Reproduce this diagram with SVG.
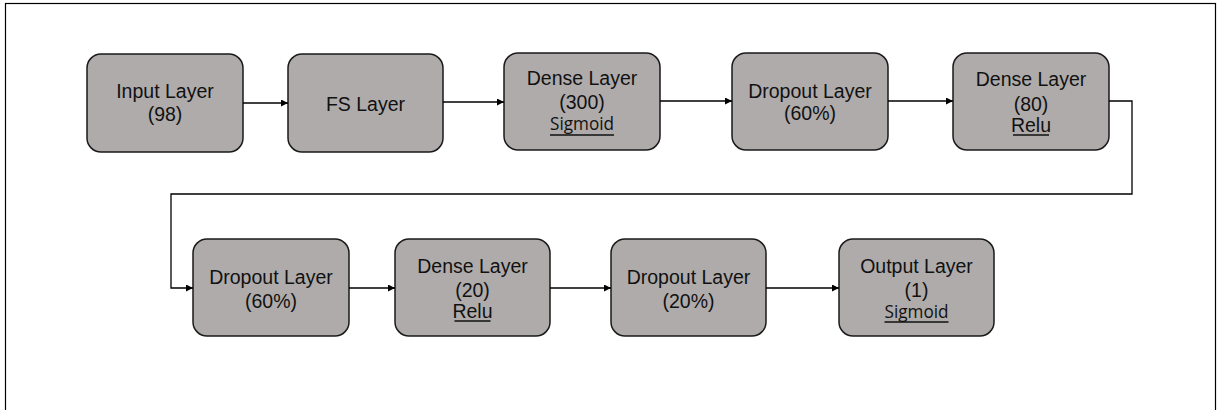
<svg xmlns="http://www.w3.org/2000/svg" width="1217" height="410" viewBox="0 0 1217 410">
  <defs>
    <marker id="arrow" viewBox="0 0 10 10" refX="10" refY="5" markerWidth="8" markerHeight="7" markerUnits="userSpaceOnUse" orient="auto">
      <path d="M0,0 L10,5 L0,10 Z" fill="#000"/>
    </marker>
  </defs>
  <style>
    .frame { fill: none; stroke: #000; stroke-width: 1.2; }
    .layer { fill: #AFABAB; stroke: #1a1a1a; stroke-width: 1.5; }
    .lbl { font-family: "Liberation Sans", Arial, sans-serif; font-size: 19.5px; fill: #111; text-anchor: middle; }
    .act { font-family: "Open Sans", "Noto Sans", sans-serif; font-size: 18px; fill: #111; text-anchor: middle; }
    .ul { stroke: #111; stroke-width: 1.3; }
    .edge { fill: none; stroke: #000; stroke-width: 1.3; marker-end: url(#arrow); }
  </style>

  <!-- outer frame -->
  <rect class="frame" x="5.5" y="3.5" width="1210" height="430"/>

  <!-- top row -->
  <g id="input-layer">
    <rect class="layer" x="87" y="54" width="156" height="98" rx="14"/>
    <text class="lbl" x="165" y="97.5">Input Layer</text>
    <text class="lbl" x="165" y="121">(98)</text>
  </g>

  <g id="fs-layer">
    <rect class="layer" x="288" y="54" width="155" height="98" rx="14"/>
    <text class="lbl" x="365.5" y="111">FS Layer</text>
  </g>

  <g id="dense-300">
    <rect class="layer" x="504" y="53" width="156" height="97" rx="14"/>
    <text class="lbl" x="582" y="85">Dense Layer</text>
    <text class="lbl" x="582" y="109">(300)</text>
    <text class="act" x="582" y="130" textLength="64" lengthAdjust="spacingAndGlyphs">Sigmoid</text>
    <line class="ul" x1="550" y1="135" x2="614" y2="135"/>
  </g>

  <g id="dropout-60a">
    <rect class="layer" x="732" y="53" width="156" height="97" rx="14"/>
    <text class="lbl" x="810" y="97.5">Dropout Layer</text>
    <text class="lbl" x="810" y="120">(60%)</text>
  </g>

  <g id="dense-80">
    <rect class="layer" x="953" y="53" width="156" height="97" rx="14"/>
    <text class="lbl" x="1031" y="86">Dense Layer</text>
    <text class="lbl" x="1031" y="111">(80)</text>
    <text class="lbl" x="1031" y="131.5">Relu</text>
    <line class="ul" x1="1013" y1="135" x2="1049" y2="135"/>
  </g>

  <!-- bottom row -->
  <g id="dropout-60b">
    <rect class="layer" x="193" y="239" width="156" height="97" rx="14"/>
    <text class="lbl" x="271" y="284">Dropout Layer</text>
    <text class="lbl" x="271" y="307.5">(60%)</text>
  </g>

  <g id="dense-20">
    <rect class="layer" x="395" y="239" width="155" height="97" rx="14"/>
    <text class="lbl" x="472.5" y="273">Dense Layer</text>
    <text class="lbl" x="472.5" y="297">(20)</text>
    <text class="lbl" x="472.5" y="318">Relu</text>
    <line class="ul" x1="454.5" y1="321" x2="490.5" y2="321"/>
  </g>

  <g id="dropout-20">
    <rect class="layer" x="611" y="239" width="155" height="97" rx="14"/>
    <text class="lbl" x="688.5" y="284">Dropout Layer</text>
    <text class="lbl" x="688.5" y="307.5">(20%)</text>
  </g>

  <g id="output-layer">
    <rect class="layer" x="839" y="239" width="155" height="97" rx="14"/>
    <text class="lbl" x="916.5" y="272.5">Output Layer</text>
    <text class="lbl" x="916.5" y="297">(1)</text>
    <text class="act" x="916.5" y="318" textLength="64" lengthAdjust="spacingAndGlyphs">Sigmoid</text>
    <line class="ul" x1="884.5" y1="322" x2="948.5" y2="322"/>
  </g>

  <!-- connectors -->
  <g id="connectors">
    <path class="edge" d="M243,103 H288"/>
    <path class="edge" d="M443,102 H504"/>
    <path class="edge" d="M660,101 H732"/>
    <path class="edge" d="M888,101 H953"/>
    <path class="edge" d="M1109,101 H1132 V194 H171 V288 H193"/>
    <path class="edge" d="M349,288 H395"/>
    <path class="edge" d="M550,288 H611"/>
    <path class="edge" d="M766,288 H839"/>
  </g>
</svg>
